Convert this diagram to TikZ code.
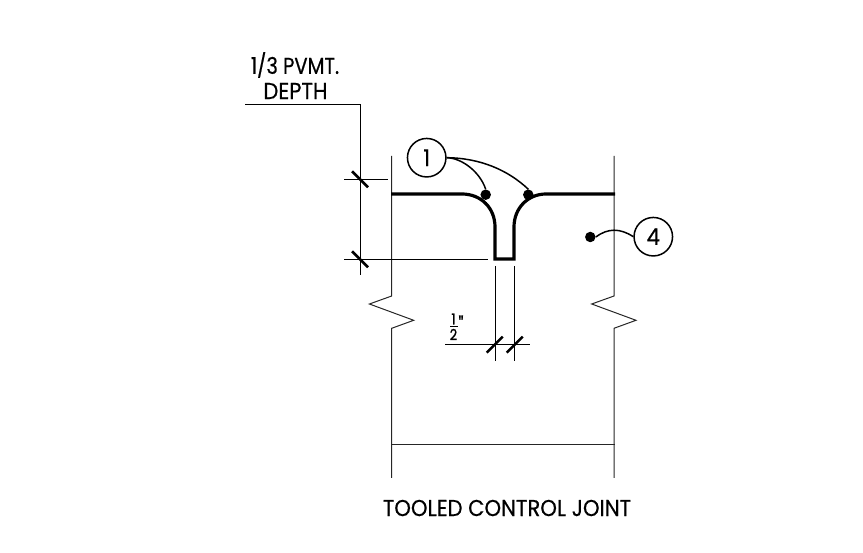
\documentclass[tikz,border=0pt]{standalone}
\usepackage{fontspec}
\setmainfont{Poppins}
\newfontfamily\cadfont[FakeStretch=0.92,FakeBold=0.5]{Poppins}
\newfontfamily\cadnarrow[FakeStretch=0.85,FakeBold=0.5]{Poppins}
\newfontfamily\cadfrac[FakeStretch=0.85,FakeBold=1.5]{Poppins}
\usepackage{tikz}
\usetikzlibrary{positioning}

\tikzset{
    wall/.style={line width=1pt, black!85},
    dimline/.style={line width=1.9pt},
    extline/.style={line width=1.5pt},
    slash/.style={line width=2.6pt},
    joint/.style={line width=3.2pt, line join=miter},
    leader/.style={line width=1.5pt},
    balloon/.style={circle, draw, line width=1.5pt, minimum size=38.5pt, inner sep=0pt, font=\cadfont\fontsize{23}{23}\selectfont},
    dot/.style={circle, fill=black, minimum size=10.5pt, inner sep=0pt},
    caption/.style={inner sep=0pt, font=\cadfont\fontsize{23}{23}\selectfont},
    fraction/.style={inner sep=0pt, font=\cadfrac\fontsize{15}{15}\selectfont}
}

\begin{document}
\begin{tikzpicture}[x=1pt, y=-1pt]
    \useasboundingbox (0,0) rectangle (863,553);

    % walls, left and right
    \foreach \name/\xa in {lw/391.7, rw/614} {
        \coordinate (\name top) at (\xa,156);
        \coordinate (\name a) at (\xa,296);
        \coordinate (\name b) at (\xa-22.3,304);
        \coordinate (\name c) at (\xa+22,320.3);
        \coordinate (\name d) at (\xa,328.3);
        \coordinate (\name end) at (\xa,478);
        \draw [wall] (\name top) -- (\name a) -- (\name b) -- (\name c) -- (\name d) -- (\name end);
    }
    \coordinate (baseL) at (391,445);
    \coordinate (baseR) at (615,445);
    \draw [wall] (baseL) -- (baseR);

    % joint profile
    \coordinate (topL) at (391,194);
    \coordinate (lipL) at (462,194);
    \coordinate (slotL) at (495,227);
    \coordinate (botL) at (495,259);
    \coordinate (botR) at (514,259);
    \coordinate (slotR) at (514,227);
    \coordinate (lipR) at (546,194);
    \coordinate (topR) at (615,194);
    \draw [joint] (topL) -- (lipL) .. controls (481,194) and (495,208) .. (slotL) -- (botL) -- (botR) -- (slotR) .. controls (514,208) and (528,194) .. (lipR) -- (topR);

    % depth dimension
    \coordinate (shelfL) at (245,104.5);
    \coordinate (shelfR) at (360.5,104.5);
    \coordinate (depthEnd) at (360.5,275);
    \draw [dimline] (shelfL) -- (shelfR) -- (depthEnd);
    \coordinate (extAa) at (344,179.5);
    \coordinate (extAb) at (388,179.5);
    \coordinate (extBa) at (344,259.5);
    \coordinate (extBb) at (488,259.5);
    \draw [extline] (extAa) -- (extAb);
    \draw [extline] (extBa) -- (extBb);
    \foreach \ya in {179.3, 259.3} {
        \draw [slash] (352,\ya-8) -- (368,\ya+8);
    }

    % slot width dimension
    \coordinate (widA) at (495.5,266);
    \coordinate (widAe) at (495.5,360.7);
    \coordinate (widB) at (514.5,266);
    \coordinate (widBe) at (514.5,360.7);
    \coordinate (widL) at (445,344.5);
    \coordinate (widR) at (530,344.5);
    \draw [dimline] (widA) -- (widAe);
    \draw [dimline] (widB) -- (widBe);
    \draw [dimline] (widL) -- (widR);
    \foreach \xa in {494.7, 514.7} {
        \draw [slash] (\xa-8,352.7) -- (\xa+8,336.7);
    }

    % callouts
    \node [balloon] (one) at (426.7,157.7) {1};
    \node [balloon] (four) at (653.3,236.7) {4};
    \node [dot] (dotA) at (485.7,194.7) {};
    \node [dot] (dotB) at (528.3,194.7) {};
    \node [dot] (dotC) at (590.3,237) {};
    \draw [leader] (one.east) .. controls (462,158) and (480,172) .. (dotA.north);
    \draw [leader] (one.east) .. controls (480,158) and (508,170) .. (dotB.north);
    \draw [leader] (dotC.east) .. controls (608,228) and (620,228) .. (four.west);

    % labels
    \node [caption, font=\cadnarrow\fontsize{23}{23}\selectfont] (pvmt) at (295,65) {1/3 PVMT.};
    \node [caption] (depth) at (295.5,91) {DEPTH};
    \node [fraction] (half) at (453.5,319) {1};
    \coordinate (barL) at (450,326.5);
    \coordinate (barR) at (458,326.5);
    \draw [line width=1.5pt] (barL) -- (barR);
    \node [fraction] (halfb) at (453.5,334.5) {2};
    \node [fraction, font=\cadfrac\fontsize{20}{20}\selectfont] (inch) at (461,323.5) {"};
    \node [caption] (title) at (507,508) {TOOLED CONTROL JOINT};
\end{tikzpicture}
\end{document}
